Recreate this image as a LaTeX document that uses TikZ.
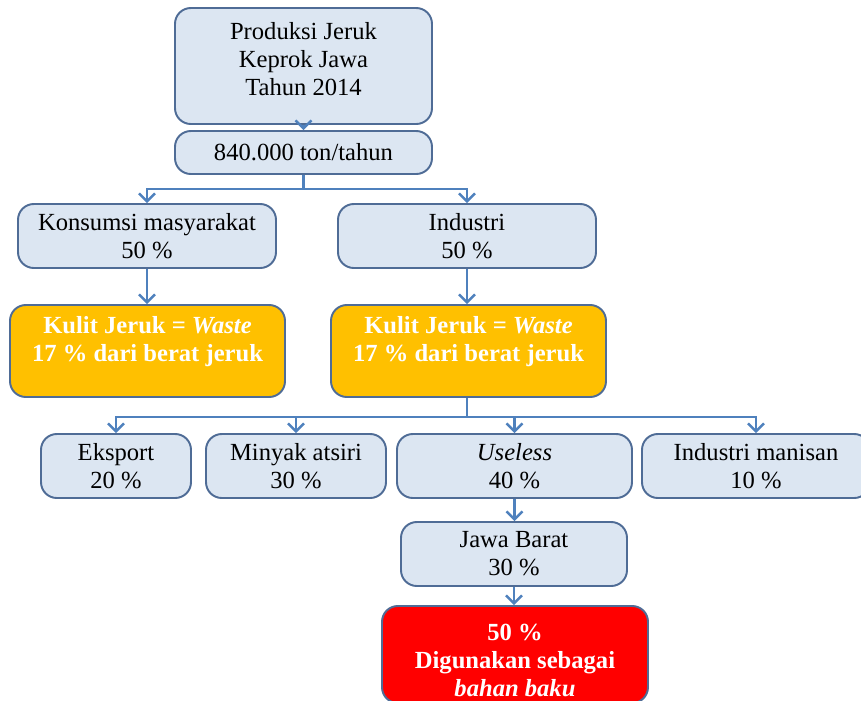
\documentclass[tikz,border=0pt]{standalone}
\usepackage{fontspec}
\setmainfont{Liberation Serif}
\usetikzlibrary{arrows.meta,positioning,calc}
\definecolor{boxfill}{RGB}{220,230,242}
\definecolor{boxline}{RGB}{79,108,150}
\definecolor{arrblue}{RGB}{79,129,189}
\definecolor{wasteorange}{RGB}{255,192,0}
\definecolor{bakured}{RGB}{255,0,0}

\begin{document}
\begin{tikzpicture}[
  line width=0.4pt,
  font=\fontsize{14}{16}\selectfont,
  box/.style={draw=boxline, fill=boxfill, line width=1.1pt, rounded corners=9pt,
              inner sep=0pt, align=center, minimum height=1.28cm},
  waste/.style={box, fill=wasteorange, text=white,
                font=\fontsize{14}{16}\selectfont\bfseries,
                minimum width=5.5cm, minimum height=1.84cm, text depth=14pt},
  result/.style={box, fill=bakured, text=white,
                 font=\fontsize{14}{16}\selectfont\bfseries},
  arr/.style={-{Straight Barb[length=4.5pt,width=9pt]}, line width=1.4pt, draw=arrblue}
]
  \useasboundingbox (0,0) rectangle (17.22,-14.02);

  % --- Top: produksi and jumlah ---
  \node[box, minimum width=5.14cm, minimum height=2.32cm, text depth=8pt] (produksi)
       at (6.07,-1.32) {Produksi Jeruk\\Keprok Jawa\\Tahun 2014};
  \node[box, minimum width=5.14cm, minimum height=0.86cm] (jumlah)
       at (6.07,-3.05) {840.000 ton/tahun};

  % --- Second tier: konsumsi / industri ---
  \node[box, minimum width=5.16cm] (konsumsi) at (2.94,-4.72)
       {Konsumsi masyarakat\\50 \%};
  \node[box, minimum width=5.16cm] (industri) at (9.34,-4.72)
       {Industri\\50 \%};

  % --- Waste boxes ---
  \node[waste] (kulitA) at (2.95,-7.02)
       {Kulit Jeruk = \textit{Waste}\\17 \% dari berat jeruk};
  \node[waste] (kulitB) at (9.37,-7.02)
       {Kulit Jeruk = \textit{Waste}\\17 \% dari berat jeruk};

  % --- Use of the waste ---
  \node[box, minimum width=3.0cm]  (eksport) at (2.32,-9.32)  {Eksport\\20 \%};
  \node[box, minimum width=3.6cm]  (minyak)  at (5.92,-9.32)  {Minyak atsiri\\30 \%};
  \node[box, minimum width=4.7cm]  (useless) at (10.29,-9.32) {\textit{Useless}\\40 \%};
  \node[box, minimum width=4.56cm] (manisan) at (15.12,-9.32) {Industri manisan\\10 \%};

  \node[box, minimum width=4.52cm] (jabar) at (10.28,-11.08) {Jawa Barat\\30 \%};
  \node[result, minimum width=5.32cm, minimum height=1.94cm, text height=48pt]
       (bahan) at (10.3,-13.09)
       {50 \%\\Digunakan sebagai\\\textit{bahan baku}};

  % --- Connectors ---
  \draw[arr] (produksi) -- (jumlah);
  \draw[arr] (jumlah.south) -- ++(0,-0.28) -| (konsumsi.north);
  \draw[arr] (jumlah.south) -- ++(0,-0.28) -| (industri.north);
  \draw[arr] (konsumsi) -- (konsumsi |- kulitA.north);
  \draw[arr] (industri) -- (industri |- kulitB.north);
  \foreach \use in {eksport,minyak,useless,manisan}
    \draw[arr] (industri |- kulitB.south) -- ++(0,-0.38) -| (\use.north);
  \draw[arr] (useless.south) -- (useless.south |- jabar.north);
  \draw[arr] (jabar.south) -- (jabar.south |- bahan.north);
\end{tikzpicture}
\end{document}
